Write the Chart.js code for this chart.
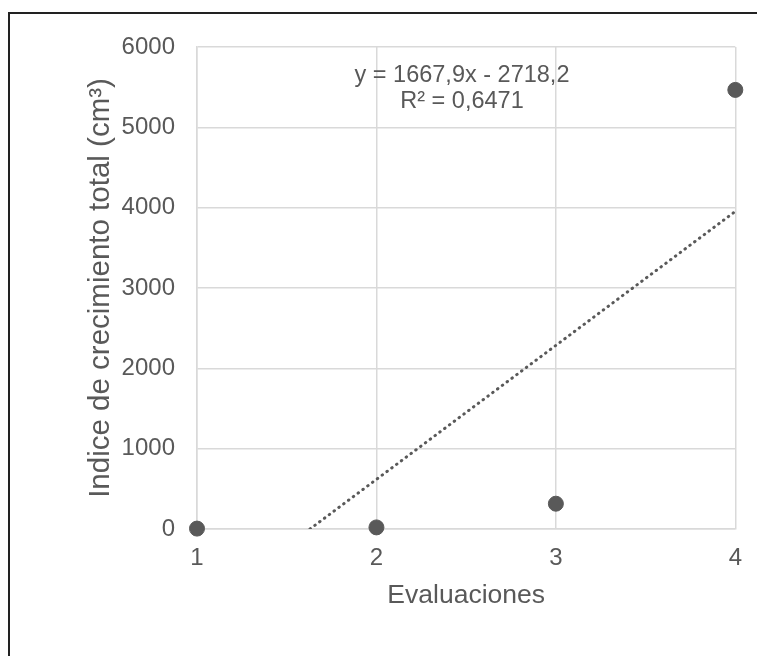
<!DOCTYPE html>
<html>
<head>
<meta charset="utf-8">
<script src="https://cdn.jsdelivr.net/npm/chart.js@4/dist/chart.umd.min.js"></script>
<style>
  html, body { margin: 0; padding: 0; background: #fff; overflow: hidden; }
  #frame {
    position: absolute; left: 8px; top: 12px;
    width: 800px; height: 700px;
    border: 2px solid #222;
    box-sizing: border-box;
  }
  #c { position: absolute; left: 0; top: 0; }
</style>
</head>
<body>
<div id="frame"></div>
<canvas id="c" width="757" height="656"></canvas>
<script>
// === Data ====================================================================
const evaluaciones = [1, 2, 3, 4];
const indice = [5, 20, 315, 5466];
const yTicks = [0, 1000, 2000, 3000, 4000, 5000, 6000];

// linear trend as printed on the chart
const trendSlope = 1667.9;
const trendIntercept = -2718.2;
const trendR2 = 0.6471;

const grey = "#595959";
const gridGrey = "#d9d9d9";
const font = "'Liberation Sans', Arial, sans-serif";

// trend line from where it crosses 0 up to the last evaluation
const trendStart = -trendIntercept / trendSlope;
const trendEnd = evaluaciones[evaluaciones.length - 1];
const trendPoints = [trendStart, trendEnd].map(x => ({ x, y: trendSlope * x + trendIntercept }));

const fmt = (v, d) => v.toFixed(d).replace(".", ",");

// === Equation label ==========================================================
const equationLabel = {
  id: "equationLabel",
  afterDraw(chart) {
    const ctx = chart.ctx;
    ctx.save();
    ctx.fillStyle = grey;
    ctx.font = "23.5px " + font;
    ctx.textAlign = "center";
    ctx.textBaseline = "middle";
    const sign = trendIntercept < 0 ? " - " : " + ";
    ctx.fillText("y = " + fmt(trendSlope, 1) + "x" + sign + fmt(Math.abs(trendIntercept), 1), 462, 76);
    ctx.fillText("R² = " + fmt(trendR2, 4), 462, 102);
    ctx.restore();
  },
};

// === Chart ===================================================================
new Chart(document.getElementById("c"), {
  type: "scatter",
  data: {
    datasets: [
      {
        label: "Indice",
        data: evaluaciones.map((x, i) => ({ x, y: indice[i] })),
        backgroundColor: grey,
        borderColor: grey,
        pointRadius: 7.5,
        pointHoverRadius: 7.5,
        clip: false,
        order: 1,
      },
      {
        label: "Lineal",
        type: "line",
        data: trendPoints,
        borderColor: grey,
        borderWidth: 3,
        borderDash: [0.5, 5.5],
        borderCapStyle: "round",
        pointRadius: 0,
        fill: false,
        order: 2,
      },
    ],
  },
  options: {
    responsive: false,
    animation: false,
    layout: { padding: { top: 47, right: 20, left: 0, bottom: 0 } },
    plugins: { legend: { display: false }, tooltip: { enabled: false } },
    scales: {
      x: {
        type: "linear",
        min: 1,
        max: 4,
        afterFit: s => { s.height = 127; },
        ticks: { stepSize: 1, color: grey, padding: 15, font: { family: font, size: 24 } },
        grid: { color: gridGrey, lineWidth: 1.5, drawTicks: false },
        border: { color: gridGrey, width: 1.5 },
        title: {
          display: true,
          text: "Evaluaciones",
          color: grey,
          font: { family: font, size: 26.5 },
          padding: { top: 0, bottom: 44 },
        },
      },
      y: {
        min: 0,
        max: 6000,
        afterFit: s => { s.width = 197; },
        afterBuildTicks: s => { s.ticks = yTicks.map(v => ({ value: v })); },
        ticks: {
          color: grey,
          padding: 22,
          font: { family: font, size: 24 },
          callback: v => String(v),
        },
        grid: { color: gridGrey, lineWidth: 1.5, drawTicks: false },
        border: { color: gridGrey, width: 1.5 },
        title: {
          display: true,
          text: "Indice de crecimiento total (cm³)",
          color: grey,
          font: { family: font, size: 29.5 },
          padding: { top: 83, bottom: 0 },
        },
      },
    },
  },
  plugins: [equationLabel],
});
</script>
</body>
</html>
